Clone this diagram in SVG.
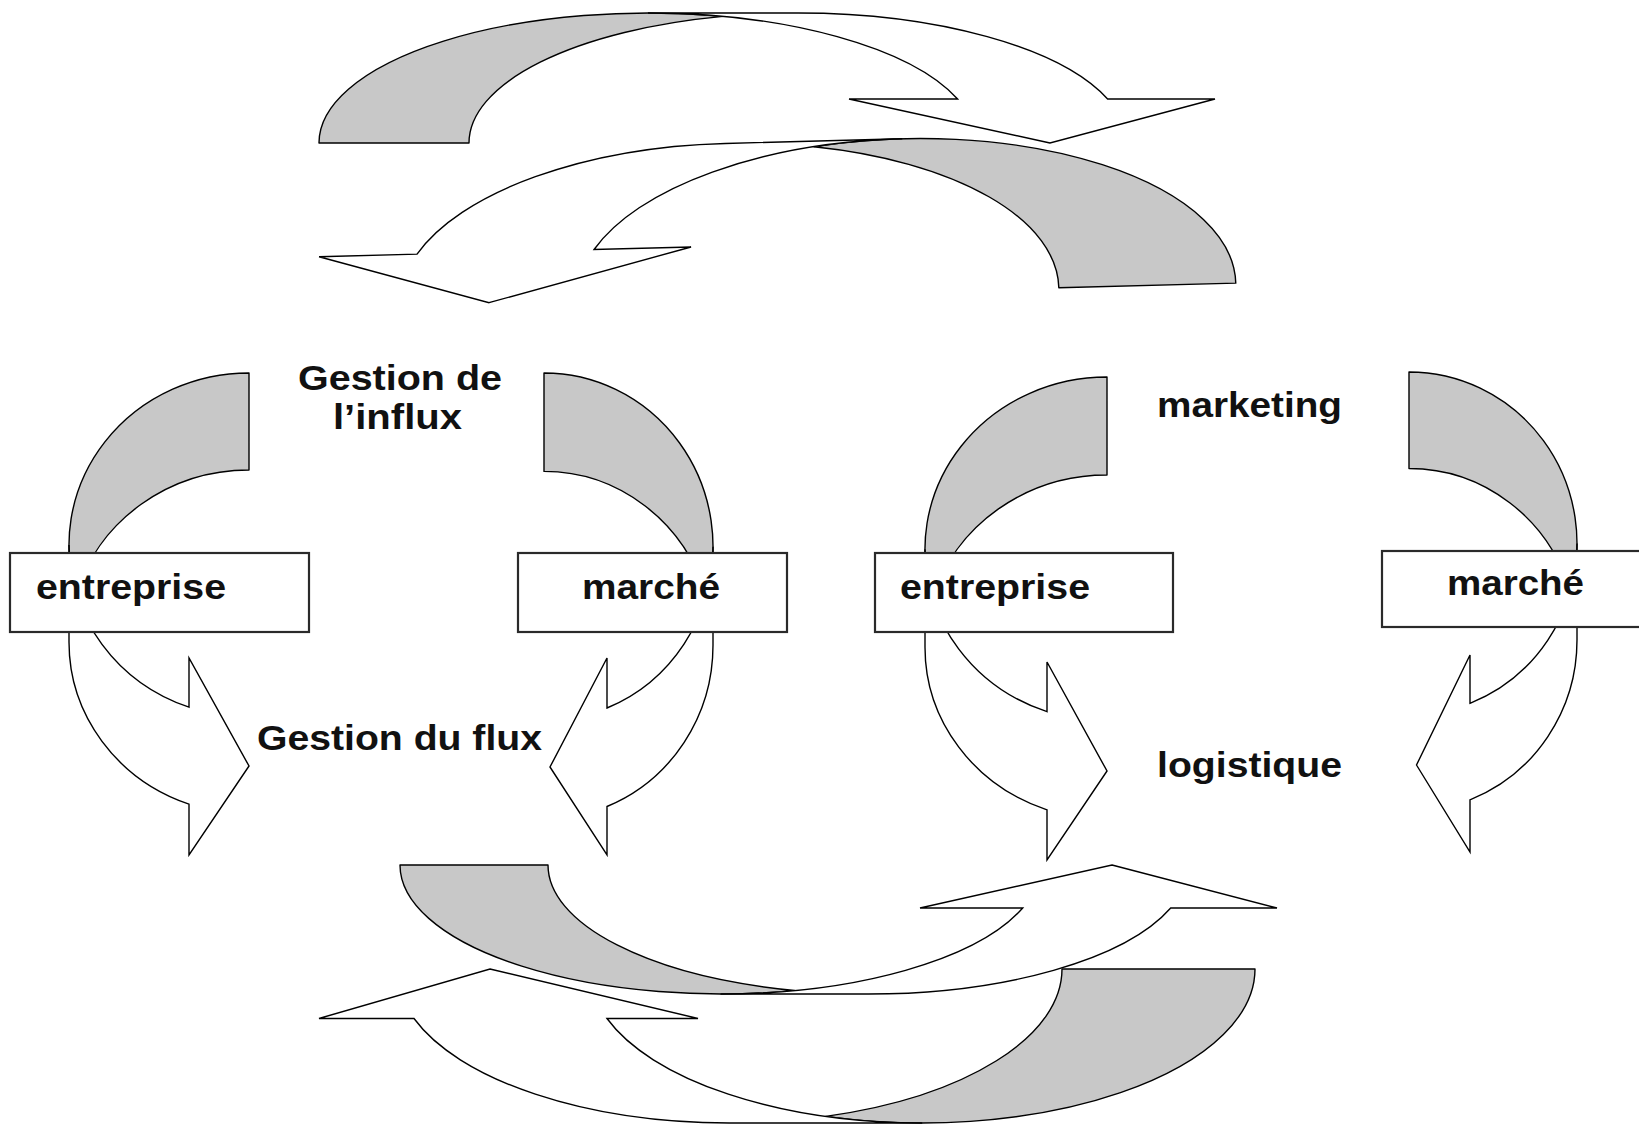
<svg xmlns="http://www.w3.org/2000/svg" width="1639" height="1129" viewBox="0 0 1639 1129">
  <style>
    .back { fill: #c8c8c8; stroke: #000; stroke-width: 1.4; stroke-linejoin: round; }
    .front { fill: #fff; stroke: #000; stroke-width: 1.4; stroke-linejoin: miter; }
    .box { fill: #fff; stroke: #2a2a2a; stroke-width: 2.2; }
    .lbl { font-family: "Liberation Sans", Arial, Helvetica, sans-serif; font-weight: bold; font-size: 35px; fill: #111; }
  </style>
  <rect width="1639" height="1129" fill="#fff"/>

  <!-- curved block arrows -->
  <g id="connectors">
    <!-- top: arc curving over to the right -->
    <g id="arc-top-right">
      <path class="back" d="M319,143 A329,130 0 0 1 723,16.4 A329,130 0 0 0 469,143 Z"/>
      <path class="front" d="M1050,143 L849,99 L957.6,99 A329,130 0 0 0 648,13 L798,13 A329,130 0 0 1 1107.6,99 L1215,99 Z"/>
    </g>
    <!-- top: arc curving back to the left -->
    <g id="arc-top-left" transform="rotate(-1.5 780 145)">
      <path class="back" d="M1232,295 A329.6,153 0 0 0 813.9,147.6 A329.6,153 0 0 1 1055,295 Z"/>
      <path class="front" d="M485,295 L688.4,244.6 L591.4,244.6 A329.6,153 0 0 1 902.4,142 L725.4,142 A329.6,153 0 0 0 414.3,244.6 L316.3,244.6 Z"/>
    </g>

    <!-- left pair -->
    <g id="arc-entreprise-1">
      <path class="back" d="M249,373 A180,172 0 0 0 76.3,593.5 A180,172 0 0 1 249,470 Z"/>
      <path class="front" d="M249,766 L189,855 L189,804.2 A180,172 0 0 1 69,642 L69,545 A180,172 0 0 0 189,707.2 L189,658 Z"/>
    </g>
    <g id="arc-marche-1">
      <path class="back" d="M544,373 A169,173.8 0 0 1 706.1,596 A169,173.8 0 0 0 544,471.4 Z"/>
      <path class="front" d="M550,767 L607,855 L607,806.5 A169,173.8 0 0 0 713,645.2 L713,546.8 A169,173.8 0 0 1 607,708 L607,658 Z"/>
    </g>

    <!-- right pair -->
    <g id="arc-entreprise-2">
      <path class="back" d="M1107,377 A182,172.2 0 0 0 932.5,598.2 A182,172.2 0 0 1 1107,475 Z"/>
      <path class="front" d="M1107,771 L1047,860 L1047,809.8 A182,172.2 0 0 1 925,647.2 L925,549.2 A182,172.2 0 0 0 1047,711.7 L1047,662 Z"/>
    </g>
    <g id="arc-marche-2">
      <path class="back" d="M1409,372 A168,171.5 0 0 1 1570.2,591.75 A168,171.5 0 0 0 1409,468.5 Z"/>
      <path class="front" d="M1416.5,765 L1470,852 L1470,799.8 A168,171.5 0 0 0 1577,640 L1577,543.5 A168,171.5 0 0 1 1470,703.3 L1470,655 Z"/>
    </g>

    <!-- bottom: arc curving up to the right -->
    <g id="arc-bottom-right">
      <path class="back" d="M400,865 A320.5,129 0 0 0 794.5,990.5 A320.5,129 0 0 1 548,865 Z"/>
      <path class="front" d="M1112,865 L1277,908 L1170.7,908 A320.5,129 0 0 1 868.5,994 L720.5,994 A320.5,129 0 0 0 1022.7,908 L920,908 Z"/>
    </g>
    <!-- bottom: arc curving up to the left -->
    <g id="arc-bottom-left">
      <path class="back" d="M1255,969 A332.8,154 0 0 1 825.7,1116.4 A332.8,154 0 0 0 1062,969 Z"/>
      <path class="front" d="M490,969 L698,1018.5 L607,1018.5 A332.8,154 0 0 0 922.2,1123 L729.2,1123 A332.8,154 0 0 1 414,1018.5 L319,1018.5 Z"/>
    </g>
  </g>

  <!-- boxes -->
  <g id="node-entreprise-1">
    <rect class="box" x="10" y="553" width="299" height="79"/>
    <text class="lbl" x="36" y="599" textLength="190" lengthAdjust="spacingAndGlyphs">entreprise</text>
  </g>
  <g id="node-marche-1">
    <rect class="box" x="518" y="553" width="269" height="79"/>
    <text class="lbl" x="582" y="599" textLength="138" lengthAdjust="spacingAndGlyphs">marché</text>
  </g>
  <g id="node-entreprise-2">
    <rect class="box" x="875" y="553" width="298" height="79"/>
    <text class="lbl" x="900" y="599" textLength="190" lengthAdjust="spacingAndGlyphs">entreprise</text>
  </g>
  <g id="node-marche-2">
    <rect class="box" x="1382" y="551" width="262" height="76"/>
    <text class="lbl" x="1447" y="595" textLength="137" lengthAdjust="spacingAndGlyphs">marché</text>
  </g>

  <!-- free labels -->
  <g id="label-influx">
    <text class="lbl" x="298" y="390" textLength="204" lengthAdjust="spacingAndGlyphs">Gestion de</text>
    <text class="lbl" x="333" y="429" textLength="129" lengthAdjust="spacingAndGlyphs">l’influx</text>
  </g>
  <g id="label-flux">
    <text class="lbl" x="257" y="750" textLength="285" lengthAdjust="spacingAndGlyphs">Gestion du flux</text>
  </g>
  <g id="label-marketing">
    <text class="lbl" x="1157" y="417" textLength="185" lengthAdjust="spacingAndGlyphs">marketing</text>
  </g>
  <g id="label-logistique">
    <text class="lbl" x="1157" y="777" textLength="185" lengthAdjust="spacingAndGlyphs">logistique</text>
  </g>
</svg>
